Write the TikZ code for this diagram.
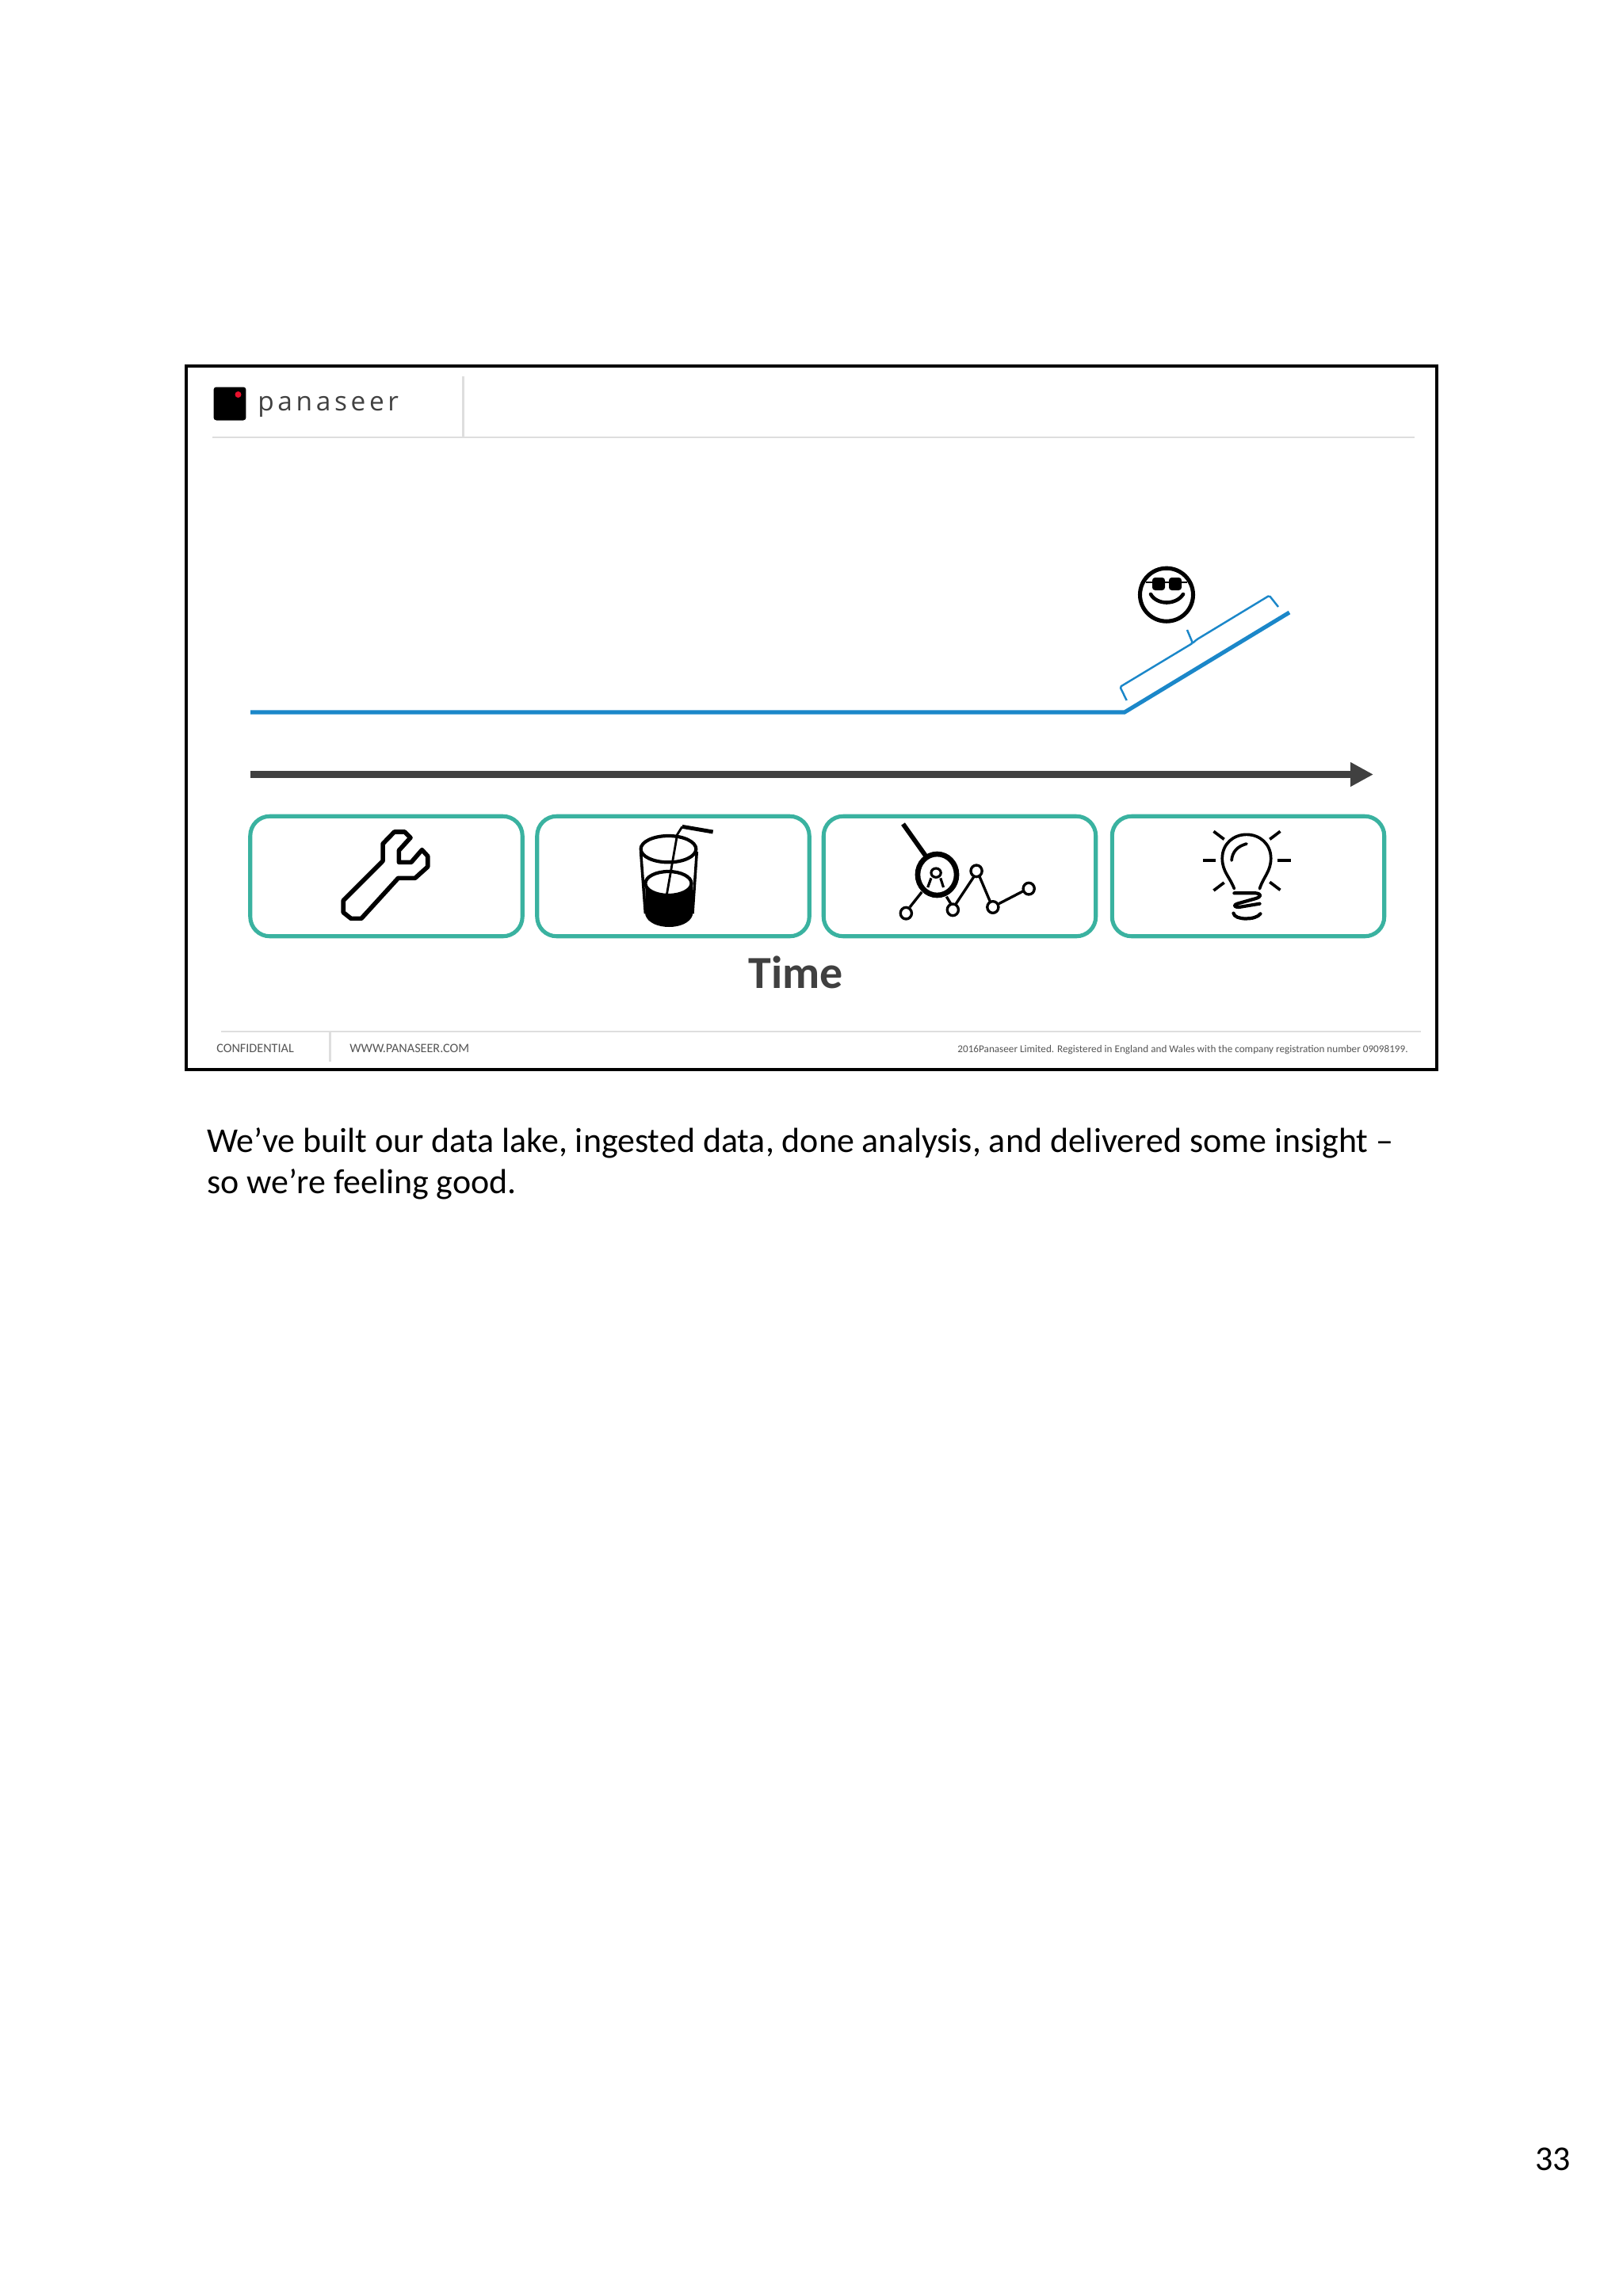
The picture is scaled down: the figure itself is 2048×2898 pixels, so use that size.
\documentclass[tikz,border=0pt]{standalone}
\usepackage{fontspec}
\setmainfont{Carlito}
\newfontfamily\logofont[LetterSpace=14]{Open Sans}
\usetikzlibrary{arrows.meta, positioning}
\definecolor{framecol}{HTML}{000000}
\definecolor{rulecol}{HTML}{DEDEDE}
\definecolor{logored}{HTML}{E8112D}
\definecolor{trendcol}{HTML}{1B87C9}
\definecolor{axiscol}{HTML}{404040}
\definecolor{tealcol}{HTML}{3AB2A0}
\definecolor{footcol}{HTML}{555555}
\tikzset{
  slideframe/.style = {rectangle, draw=framecol, line width=2.5pt, minimum width=31.57cm, minimum height=17.76cm, inner sep=0pt},
  stagebox/.style   = {rectangle, rounded corners=14pt, draw=tealcol, line width=2.9pt, minimum width=6.87cm, minimum height=3.03cm, inner sep=0pt},
  slidetxt/.style   = {inner sep=0pt, align=left},
  bodytxt/.style    = {slidetxt, text=black, font=\fontsize{25pt}{29.6pt}\selectfont},
  foottxt/.style    = {slidetxt, text=footcol, font=\fontsize{9.2pt}{11pt}\selectfont},
  smalltxt/.style   = {slidetxt, text=footcol, font=\fontsize{7.5pt}{9pt}\selectfont},
  thinrule/.style   = {draw=rulecol, line width=1.3pt},
  trend/.style      = {draw=trendcol, line width=2.9pt},
  bracket/.style    = {draw=trendcol, line width=1.4pt, rounded corners=1pt},
  timeaxis/.style   = {draw=axiscol, line width=5.5pt, -{Triangle[length=16.5pt, width=16.5pt]}},
  icon/.style       = {draw=black, line width=2pt, line join=round},
}
\begin{document}
\begin{tikzpicture}[x=0.02cm, y=-0.02cm]
  \useasboundingbox (0,0) rectangle (2048,2898);
  \node[slideframe] (frame) at (1024,906) {};

  % header
  \node[fill=black, rounded corners=2pt, minimum width=0.82cm, minimum height=0.84cm, inner sep=0pt] (logo) at (290,509.5) {};
  \node[circle, fill=logored, minimum size=0.16cm, inner sep=0pt] (logodot) at (300.5,498) {};
  \node[slidetxt, anchor=base west, text=axiscol, font=\fontsize{19pt}{22pt}\logofont] (brand) at (325,518) {panaseer};
  \coordinate (headl) at (268,552);
  \coordinate (headr) at (1785,552);
  \coordinate (headt) at (584.5,475);
  \coordinate (headb) at (584.5,552);
  \draw[thinrule] (headl) -- (headr);
  \draw[thinrule] (headt) -- (headb);

  % trend line and bracket
  \coordinate (flat0) at (316,899);
  \coordinate (flat1) at (1419,899);
  \coordinate (rise) at (1627,773);
  \draw[trend] (flat0) -- (flat1) -- (rise);
  \draw[bracket] (1421.7,884) -- (1413.3,867) -- (1505,811.7) -- (1498,795);
  \draw[bracket] (1505,811.7) -- (1510,807.3) -- (1601.7,751.7) -- (1613,766);

  % smiley
  \draw[icon, line width=2.9pt] (1472,750.7) circle (33.5);
  \draw[icon, line width=1.6pt] (1446,735) -- (1498,735);
  \fill[black, rounded corners=2pt] (1454,729) rectangle (1470,745);
  \fill[black, rounded corners=2pt] (1475,729) rectangle (1491,745);
  \draw[icon, line width=2.6pt, line cap=round] (1452,750) .. controls (1460,764) and (1484,764) .. (1493,750);

  % time axis
  \coordinate (axis0) at (316,977.5);
  \coordinate (axis1) at (1733,977.5);
  \draw[timeaxis] (axis0) -- (axis1);

  % stages
  \node[stagebox] (wrench) at (487.5,1106) {};
  \node[stagebox] (drink) at (849.5,1106) {};
  \node[stagebox] (analysis) at (1211,1106) {};
  \node[stagebox] (insight) at (1575,1106) {};

  \begin{scope}[shift={(300,1020)}, x=0.009695cm, y=-0.006667cm]
    % wrench
    \draw[icon, line width=3.2pt] (378,200) -- (378,135) -- (408,90) -- (435,90) -- (450,112) -- (420,160)
      -- (420,205) -- (452,205) -- (480,158) -- (495,182) -- (495,222) -- (462,265) -- (418,265)
      -- (322,418) -- (295,418) -- (275,395) -- (275,350) -- cycle;
    % glass
    \fill[black] (1062,285) -- (1062,405) .. controls (1075,465) and (1172,465) .. (1185,405) -- (1185,285) -- cycle;
    \draw[icon, fill=white, line width=2.4pt] (1122,285) ellipse [x radius=60, y radius=45];
    \draw[icon, line width=2.4pt] (1122,155) ellipse [x radius=72, y radius=50];
    \draw[icon, line width=2pt] (1050,165) -- (1062,400);
    \draw[icon, line width=2pt] (1196,165) -- (1185,400);
    \draw[icon, line width=1.6pt] (1118,325) -- (1145,100) -- (1158,70);
    \draw[icon, line width=2.8pt] (1158,70) -- (1238,90);
  \end{scope}

  \begin{scope}[shift={(1030,1020)}, x=0.009438cm, y=-0.006667cm]
    % magnifier over a graph
    \draw[icon, line width=3.3pt] (232,60) -- (292,180);
    \draw[icon, line width=3.8pt] (323,252) ellipse [x radius=52, y radius=78];
    \draw[icon, line width=1.8pt] (320,245) ellipse [x radius=13, y radius=17];
    \draw[icon, line width=1.8pt] (307,265) -- (298,300);
    \draw[icon, line width=1.8pt] (332,265) -- (340,300);
    \foreach \px/\py in {240/398, 365/385, 472/375, 568/305, 428/238}{
      \draw[icon, line width=1.9pt] (\px,\py) ellipse [x radius=15, y radius=22];
    }
    \draw[icon, line width=1.9pt] (282,318) -- (250,375);
    \draw[icon, line width=1.9pt] (348,335) -- (360,363);
    \draw[icon, line width=1.9pt] (372,365) -- (422,258);
    \draw[icon, line width=1.9pt] (436,258) -- (465,355);
    \draw[icon, line width=1.9pt] (488,362) -- (552,315);
    % bulb
    \draw[icon, line width=2.1pt, line cap=round] (1117,305) .. controls (1105,260) and (1085,240) .. (1085,190)
      .. controls (1085,135) and (1115,100) .. (1150,100) .. controls (1185,100) and (1215,135) .. (1215,190)
      .. controls (1215,240) and (1195,260) .. (1185,305);
    \draw[icon, line width=2.1pt, line cap=round] (1110,198) .. controls (1112,165) and (1125,145) .. (1150,135);
    \foreach \ax/\ay/\bx/\by in {1062/88/1090/118, 1240/88/1212/118, 1033/198/1068/198, 1232/198/1268/198,
      1062/312/1090/282, 1240/310/1212/280}{
      \draw[icon, line width=2.1pt] (\ax,\ay) -- (\bx,\by);
    }
    \draw[icon, line width=2.4pt, line cap=round] (1117,322) -- (1175,322) .. controls (1190,325) and (1190,335) .. (1175,342)
      -- (1125,362) .. controls (1112,370) and (1120,375) .. (1130,375) -- (1185,362);
    \draw[icon, line width=2.4pt, line cap=round] (1115,398) .. controls (1118,425) and (1175,425) .. (1187,400);
  \end{scope}

  \node[slidetxt, text=axiscol, font=\fontsize{33pt}{38pt}\bfseries\selectfont, anchor=base] (timelbl) at (1004,1247) {Time};

  % footer
  \coordinate (footl) at (279,1302);
  \coordinate (footr) at (1793,1302);
  \coordinate (foott) at (416.6,1302);
  \coordinate (footb) at (416.6,1340);
  \draw[thinrule] (footl) -- (footr);
  \draw[thinrule] (foott) -- (footb);
  \node[foottxt, anchor=west] (confid) at (273,1323) {CONFIDENTIAL};
  \node[foottxt, anchor=west] (site) at (441,1323) {WWW.PANASEER.COM};
  \node[smalltxt, anchor=east] (legal) at (1777,1325) {2016Panaseer Limited. Registered in England and Wales with the company registration number 09098199.};

  % notes
  \node[bodytxt, anchor=north west] (notes) at (261,1423) {We’ve built our data lake, ingested data, done analysis, and delivered some insight –\\so we’re feeling good.};
  \node[bodytxt, anchor=east] (pagenum) at (1982,2725) {33};
\end{tikzpicture}
\end{document}
